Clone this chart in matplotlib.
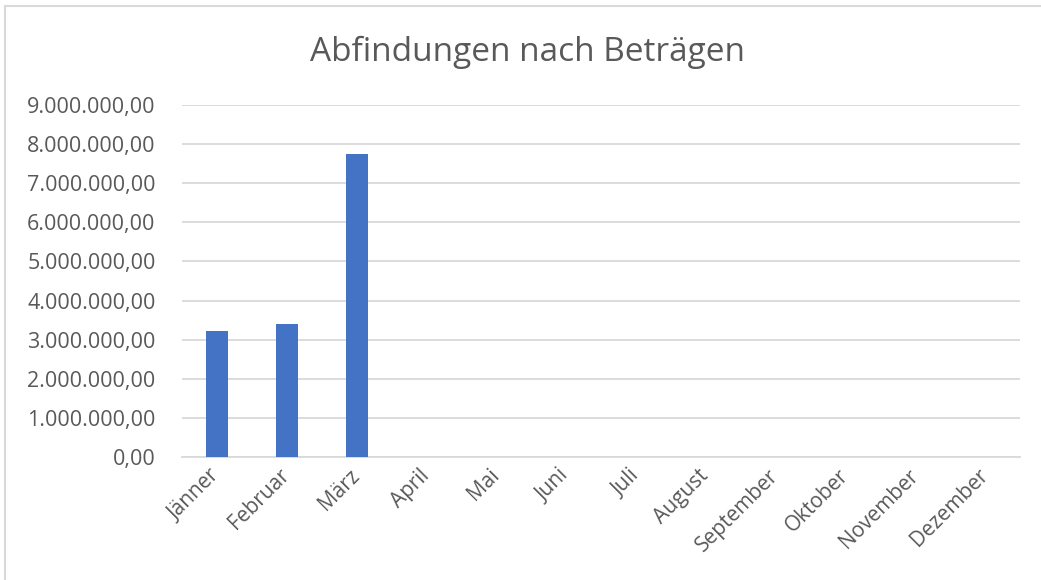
import matplotlib
matplotlib.use("Agg")
import matplotlib.pyplot as plt
from matplotlib.patches import Rectangle
from matplotlib.ticker import FuncFormatter

months = ["Jänner", "Februar", "März", "April", "Mai", "Juni", "Juli",
          "August", "September", "Oktober", "November", "Dezember"]
values = [3220000, 3390000, 7750000, 0, 0, 0, 0, 0, 0, 0, 0, 0]
y_ticks = [0, 1000000, 2000000, 3000000, 4000000, 5000000,
           6000000, 7000000, 8000000, 9000000]

plt.rcParams['font.family'] = ['Open Sans', 'DejaVu Sans']
text_color = "#595959"

fig = plt.figure(figsize=(10.41, 5.80), dpi=100)
ax = fig.add_axes([182/1041, 1 - 457/580, (1020 - 182)/1041, (457 - 105)/580])

x = list(range(len(months)))
ax.bar(x, values, width=0.315, color="#4472C4", zorder=3)

ax.set_xlim(-0.5, len(months) - 0.5)
ax.set_ylim(0, 9000000)
ax.set_yticks(y_ticks)

def fmt(v, pos):
    s = f"{v:,.2f}"
    return s.replace(",", "X").replace(".", ",").replace("X", ".")

ax.yaxis.set_major_formatter(FuncFormatter(fmt))
ax.grid(axis="y", color="#d9d9d9", linewidth=1.3, zorder=0)
for s in ["top", "right", "left"]:
    ax.spines[s].set_visible(False)
ax.spines["bottom"].set_color("#d9d9d9")
ax.spines["bottom"].set_linewidth(1.3)
ax.tick_params(axis="both", length=0, colors=text_color, labelsize=15.5)
ax.tick_params(axis="y", pad=19)

ax.set_xticks(x)
ax.set_xticklabels(months, rotation=45, ha="right", va="center",
                   rotation_mode="anchor", fontsize=15, color=text_color)
for lbl in ax.get_xticklabels():
    lbl.set_y(-0.03)

fig.text(527/1041, 1 - 52/580, "Abfindungen nach Beträgen", ha="center", va="center",
         fontsize=24, color=text_color)

fig.patches.append(Rectangle((5/1041, -0.1), 1.2, 1 - 6/580 + 0.1,
                             transform=fig.transFigure, fill=False,
                             edgecolor="#d9d9d9", linewidth=1.5))

fig.savefig("out.png", dpi=100)
